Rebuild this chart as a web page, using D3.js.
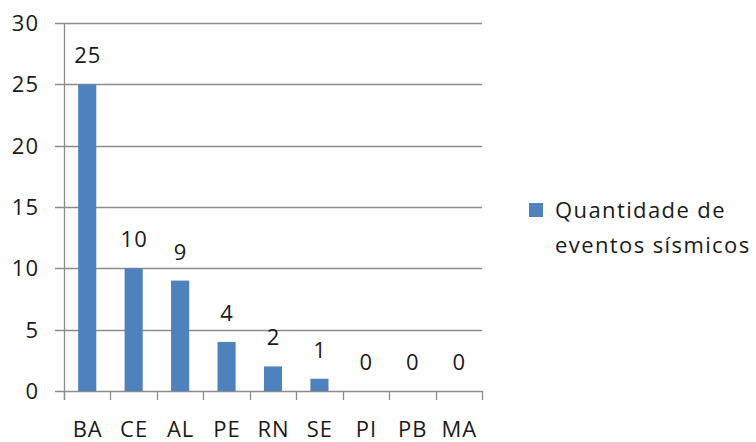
<!DOCTYPE html>
<html>
<head>
<meta charset="utf-8">
<script src="https://cdn.jsdelivr.net/npm/d3@7"></script>
<style>
body { margin: 0; background: #fff; }
text { font-family: "Open Sans", "Noto Sans", sans-serif; fill: #1a1a1a; letter-spacing: 1px; }
</style>
</head>
<body>
<div id="chart"></div>
<script>
var SVGWidth = 756;
var SVGHeight = 442;

// data
var states = ["BA", "CE", "AL", "PE", "RN", "SE", "PI", "PB", "MA"];
var counts = [25, 10, 9, 4, 2, 1, 0, 0, 0];
var yTicks = [0, 5, 10, 15, 20, 25, 30];
var seriesName = ["Quantidade de", "eventos sísmicos"];

var plotLeft = 64, plotRight = 482, plotTop = 23, plotBottom = 391;
var barColor = "#4F81BD";
var gridColor = "#8c8c8c";

var svg = d3.select("#chart")
    .append("svg")
    .attr("width", SVGWidth)
    .attr("height", SVGHeight);

var x = d3.scaleBand()
    .domain(states)
    .range([plotLeft, plotRight])
    .paddingInner(0.61)
    .paddingOuter(0.305);

var xTickScale = d3.scaleLinear()
    .domain([0, states.length])
    .range([plotLeft, plotRight]);

var y = d3.scaleLinear()
    .domain([0, 30])
    .range([plotBottom, plotTop]);

// gridlines + left labels
svg.append("g")
    .selectAll("line")
    .data(yTicks)
    .enter()
    .append("line")
    .attr("x1", plotLeft - 9)
    .attr("x2", plotRight)
    .attr("y1", function(d) { return Math.round(y(d)) + 0.5; })
    .attr("y2", function(d) { return Math.round(y(d)) + 0.5; })
    .attr("stroke", gridColor)
    .attr("stroke-width", 1.3);

svg.append("g")
    .selectAll("text")
    .data(yTicks)
    .enter()
    .append("text")
    .attr("x", 39)
    .attr("y", function(d) { return y(d); })
    .attr("dy", "0.36em")
    .attr("text-anchor", "end")
    .style("font-size", "22px")
    .text(function(d) { return d; });

// vertical axis line
svg.append("line")
    .attr("x1", plotLeft + 0.5)
    .attr("x2", plotLeft + 0.5)
    .attr("y1", plotTop)
    .attr("y2", plotBottom + 9)
    .attr("stroke", gridColor)
    .attr("stroke-width", 1.3);

// category ticks
svg.append("g")
    .selectAll("line")
    .data(d3.range(states.length + 1))
    .enter()
    .append("line")
    .attr("x1", function(d) { return Math.round(xTickScale(d)) + 0.5; })
    .attr("x2", function(d) { return Math.round(xTickScale(d)) + 0.5; })
    .attr("y1", plotBottom)
    .attr("y2", plotBottom + 9)
    .attr("stroke", gridColor)
    .attr("stroke-width", 1.3);

// bars
svg.append("g")
    .selectAll("rect")
    .data(counts)
    .enter()
    .append("rect")
    .attr("x", function(d, i) { return x(states[i]); })
    .attr("y", function(d) { return y(d); })
    .attr("width", x.bandwidth())
    .attr("height", function(d) { return plotBottom - y(d); })
    .attr("fill", barColor);

// value labels
svg.append("g")
    .selectAll("text")
    .data(counts)
    .enter()
    .append("text")
    .attr("x", function(d, i) { return x(states[i]) + x.bandwidth() / 2 + 0.5; })
    .attr("y", function(d) { return y(d) - 21; })
    .attr("text-anchor", "middle")
    .style("font-size", "22px")
    .text(function(d) { return d; });

// category labels
svg.append("g")
    .selectAll("text")
    .data(states)
    .enter()
    .append("text")
    .attr("x", function(d) { return x(d) + x.bandwidth() / 2 + 0.5; })
    .attr("y", 437)
    .attr("text-anchor", "middle")
    .style("font-size", "22px")
    .text(function(d) { return d; });

// legend
svg.append("rect")
    .attr("x", 529)
    .attr("y", 203)
    .attr("width", 14)
    .attr("height", 14)
    .attr("fill", barColor);

svg.append("g")
    .selectAll("text")
    .data(seriesName)
    .enter()
    .append("text")
    .attr("x", 555)
    .attr("y", function(d, i) { return 218 + i * 35; })
    .style("font-size", "22px")
    .style("letter-spacing", "1.4px")
    .text(function(d) { return d; });
</script>
</body>
</html>
